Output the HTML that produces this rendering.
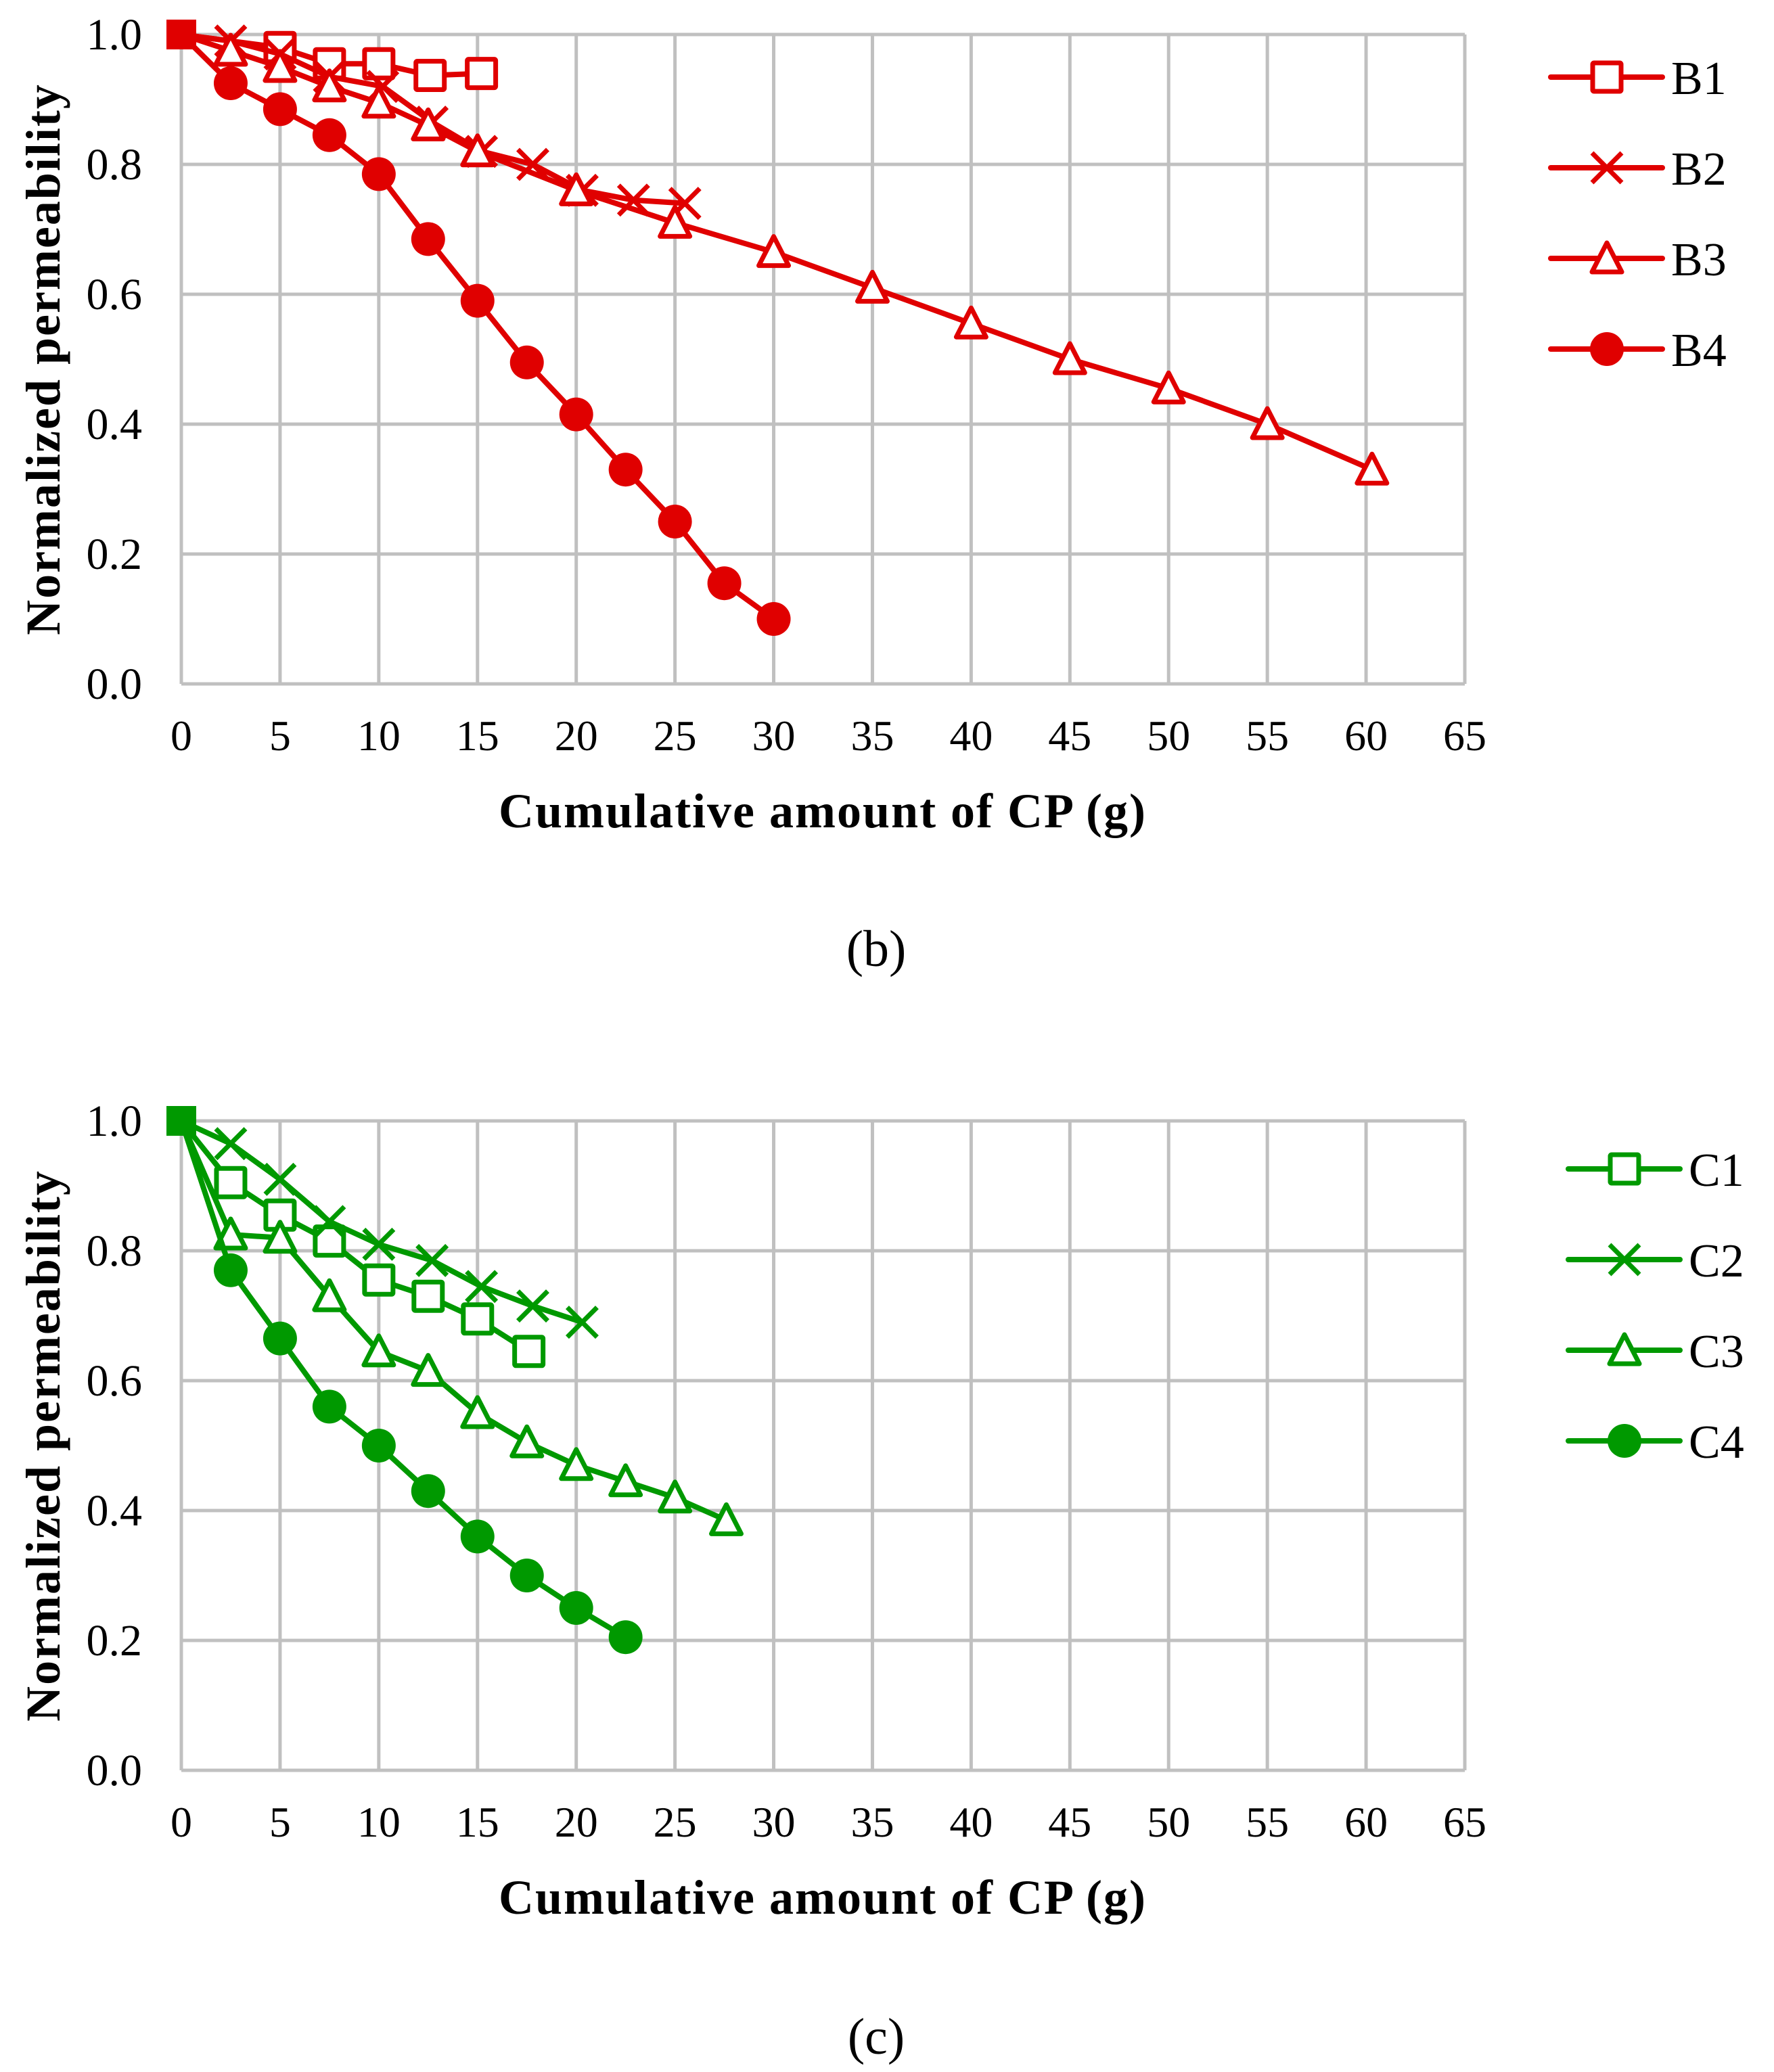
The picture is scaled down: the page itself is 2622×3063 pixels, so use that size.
<!DOCTYPE html>
<html><head><meta charset="utf-8"><style>
html,body{margin:0;padding:0;background:#fff;}
svg{display:block;font-family:"Liberation Serif",serif;}
</style></head><body>
<svg id="svg" width="2622" height="3063" viewBox="0 0 2622 3063" xmlns="http://www.w3.org/2000/svg"></svg>
<script>
const xTicks=[0,5,10,15,20,25,30,35,40,45,50,55,60,65];
const yTicks=[0,0.2,0.4,0.6,0.8,1.0];
const b1x=[0,5,7.5,10,12.6,15.2]; const b1y=[1,0.98,0.955,0.955,0.937,0.94];
const b2x=[0,2.5,5,7.5,10.2,12.7,15.2,17.8,20.3,22.9,25.5]; const b2y=[1,0.99,0.97,0.935,0.92,0.865,0.82,0.80,0.76,0.745,0.74];
const b3x=[0,2.5,5,7.5,10,12.5,15,20,25,30,35,40,45,50,55,60.3]; const b3y=[1,0.975,0.95,0.92,0.895,0.86,0.82,0.76,0.71,0.665,0.61,0.555,0.50,0.455,0.40,0.33];
const b4x=[0,2.5,5,7.5,10,12.5,15,17.5,20,22.5,25,27.5,30]; const b4y=[1,0.925,0.885,0.845,0.785,0.685,0.59,0.495,0.415,0.33,0.25,0.155,0.10];
const c1x=[0,2.5,5,7.5,10,12.5,15,17.6]; const c1y=[1,0.905,0.855,0.815,0.755,0.73,0.695,0.645];
const c2x=[0,2.5,5,7.5,10,12.7,15.2,17.8,20.3]; const c2y=[1,0.965,0.91,0.845,0.81,0.785,0.745,0.715,0.69];
const c3x=[0,2.5,5,7.5,10,12.5,15,17.5,20,22.5,25,27.6]; const c3y=[1,0.825,0.82,0.73,0.645,0.615,0.55,0.505,0.47,0.445,0.42,0.385];
const c4x=[0,2.5,5,7.5,10,12.5,15,17.5,20,22.5]; const c4y=[1,0.77,0.665,0.56,0.50,0.43,0.36,0.30,0.25,0.205];
const NS="http://www.w3.org/2000/svg";
const svg=document.getElementById('svg');
function mk(tag,attrs,parent){const e=document.createElementNS(NS,tag);for(const k in attrs)e.setAttribute(k,attrs[k]);(parent||svg).appendChild(e);return e;}
function marker(g,type,cx,cy,col){
  let e;
  if(type==='sq'){e=mk('rect',{x:cx-21,y:cy-21,width:42,height:42,fill:'#fff',stroke:col,'stroke-width':7,rx:2},g);}
  else if(type==='x'){e=mk('path',{d:`M${cx-22} ${cy-22}L${cx+22} ${cy+22}M${cx+22} ${cy-22}L${cx-22} ${cy+22}`,stroke:col,'stroke-width':7,fill:'none'},g);}
  else if(type==='tri'){e=mk('path',{d:`M${cx} ${cy-23}L${cx+22} ${cy+20}L${cx-22} ${cy+20}Z`,fill:'#fff',stroke:col,'stroke-width':7,'stroke-linejoin':'round'},g);}
  else {e=mk('circle',{cx:cx,cy:cy,r:25,fill:col},g);}
  return e;
}
function chart(id,top,col,series,legendTop,legendX,label,labelY){
  const X0=268,X1=2165,Y0=top+960,Y1=top;
  const sx=v=>X0+(v/65)*(X1-X0), sy=v=>Y0-v*(Y0-Y1);
  const g=mk('g',{});
  
  
  xTicks.forEach(t=>{const l=mk('line',{x1:sx(t),x2:sx(t),y1:Y1,y2:Y0,stroke:'#c0c0c0','stroke-width':5},g);
    
    const tx=mk('text',{x:sx(t),y:Y0+98,'font-size':64,'text-anchor':'middle',fill:'#000'},g);tx.textContent=t;
    });
  yTicks.forEach(t=>{const l=mk('line',{x1:X0,x2:X1,y1:sy(t),y2:sy(t),stroke:'#c0c0c0','stroke-width':5},g);
    
    const tx=mk('text',{x:210,y:sy(t)+22,'font-size':66,'text-anchor':'end',fill:'#000'},g);tx.textContent=t.toFixed(1);
    });
  const xt=mk('text',{x:1216,y:Y0+212,'font-size':72,'font-weight':'bold','text-anchor':'middle',fill:'#000','letter-spacing':2},g);
  xt.textContent='Cumulative amount of CP (g)';
  
  const yt=mk('text',{x:0,y:0,'font-size':72,'font-weight':'bold','text-anchor':'middle',fill:'#000','letter-spacing':2,transform:`translate(88 ${(Y0+Y1)/2}) rotate(-90)`},g);
  yt.textContent='Normalized permeability';
  
  series.forEach((s,i)=>{
    const sg=mk('g',{},g);
    
    
    const pts=s.x.map((v,j)=>sx(v)+','+sy(s.y[j])).join(' ');
    mk('polyline',{points:pts,fill:'none',stroke:col,'stroke-width':8,'stroke-linejoin':'round'},sg);
    s.x.forEach((v,j)=>{if(j===0)return;const m=marker(sg,s.m,sx(v),sy(s.y[j]),col);
      });
    const lg=mk('g',{},g);
    
    
    const ly=legendTop+i*134;
    mk('line',{x1:legendX,x2:legendX+165,y1:ly,y2:ly,stroke:col,'stroke-width':8,'stroke-linecap':'round'},lg);
    marker(lg,s.m,legendX+83,ly,col);
    const lt=mk('text',{x:legendX+178,y:ly+25,'font-size':70,fill:'#000'},lg);lt.textContent=s.name;
  });
  const o=mk('rect',{x:X0-22,y:Y1-22,width:44,height:44,fill:col},g);
  
  const lb=mk('text',{x:1295,y:labelY,'font-size':76,'text-anchor':'middle',fill:'#000'},g);
  lb.textContent=label;
}
chart('b',51,'#e00000',[
 {name:'B1',x:b1x,y:b1y,m:'sq'},{name:'B2',x:b2x,y:b2y,m:'x'},{name:'B3',x:b3x,y:b3y,m:'tri'},{name:'B4',x:b4x,y:b4y,m:'dot'}],114,2292,'(b)',1428);
chart('c',1657,'#009900',[
 {name:'C1',x:c1x,y:c1y,m:'sq'},{name:'C2',x:c2x,y:c2y,m:'x'},{name:'C3',x:c3x,y:c3y,m:'tri'},{name:'C4',x:c4x,y:c4y,m:'dot'}],1728,2318,'(c)',3036);
</script>
</body></html>
